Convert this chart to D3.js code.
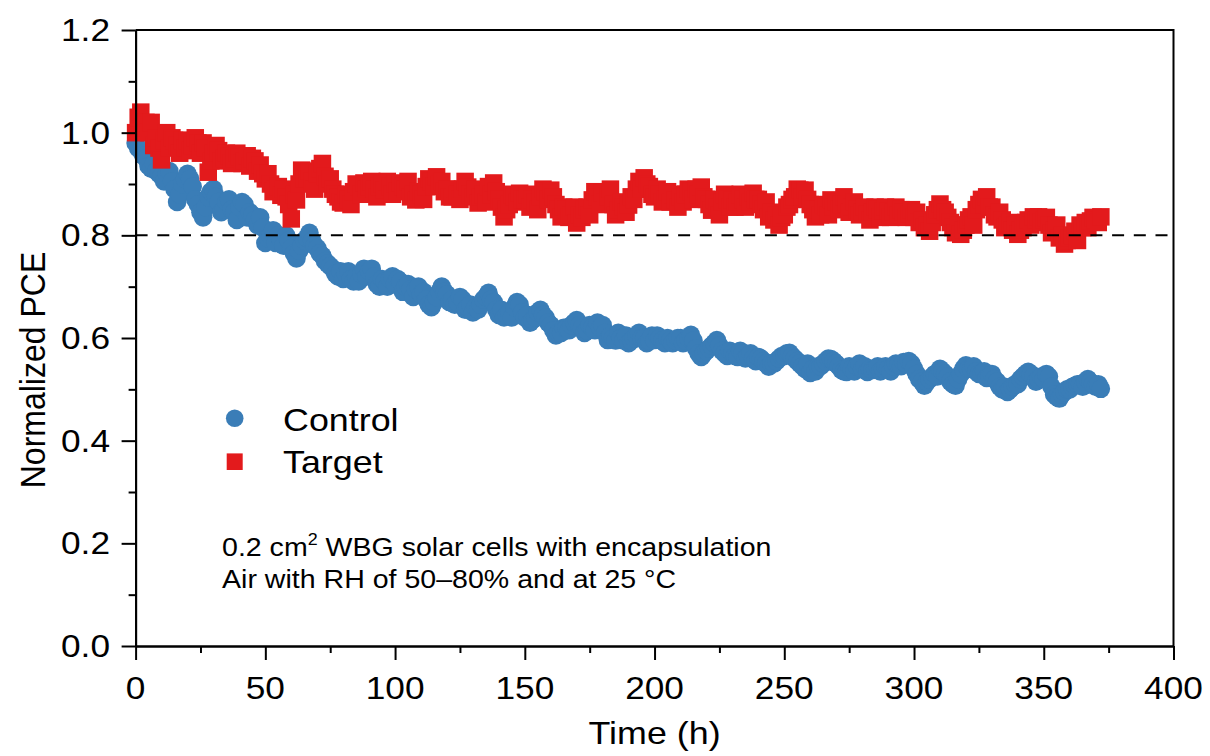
<!DOCTYPE html>
<html><head><meta charset="utf-8">
<script src="https://cdn.jsdelivr.net/npm/d3@7"></script>
<style>body{margin:0;background:#fff} svg{display:block}</style>
</head><body><svg id="chart" width="1210" height="756"></svg>
<script>
const hours = [0,1,2,3,4,5,6,7,8,9,
10,11,12,13,14,15,16,17,18,19,
20,21,22,23,24,25,26,27,28,29,
30,31,32,33,34,35,36,37,38,39,
40,41,42,43,44,45,46,47,48,49,
50,51,52,53,54,55,56,57,58,59,
60,61,62,63,64,65,66,67,68,69,
70,71,72,73,74,75,76,77,78,79,
80,81,82,83,84,85,86,87,88,89,
90,91,92,93,94,95,96,97,98,99,
100,101,102,103,104,105,106,107,108,109,
110,111,112,113,114,115,116,117,118,119,
120,121,122,123,124,125,126,127,128,129,
130,131,132,133,134,135,136,137,138,139,
140,141,142,143,144,145,146,147,148,149,
150,151,152,153,154,155,156,157,158,159,
160,161,162,163,164,165,166,167,168,169,
170,171,172,173,174,175,176,177,178,179,
180,181,182,183,184,185,186,187,188,189,
190,191,192,193,194,195,196,197,198,199,
200,201,202,203,204,205,206,207,208,209,
210,211,212,213,214,215,216,217,218,219,
220,221,222,223,224,225,226,227,228,229,
230,231,232,233,234,235,236,237,238,239,
240,241,242,243,244,245,246,247,248,249,
250,251,252,253,254,255,256,257,258,259,
260,261,262,263,264,265,266,267,268,269,
270,271,272,273,274,275,276,277,278,279,
280,281,282,283,284,285,286,287,288,289,
290,291,292,293,294,295,296,297,298,299,
300,301,302,303,304,305,306,307,308,309,
310,311,312,313,314,315,316,317,318,319,
320,321,322,323,324,325,326,327,328,329,
330,331,332,333,334,335,336,337,338,339,
340,341,342,343,344,345,346,347,348,349,
350,351,352,353,354,355,356,357,358,359,
360,361,362,363,364,365,366,367,368,369,
370,371,372];
const controlPCE = [0.98,0.97,0.965,0.955,0.95,0.935,0.93,0.94,0.925,0.92,
0.915,0.905,0.92,0.925,0.905,0.89,0.865,0.88,0.90,0.91,
0.92,0.91,0.895,0.87,0.86,0.845,0.835,0.855,0.875,0.885,
0.89,0.875,0.865,0.845,0.85,0.865,0.87,0.85,0.845,0.83,
0.855,0.865,0.86,0.835,0.845,0.84,0.83,0.82,0.835,0.815,
0.785,0.795,0.80,0.81,0.785,0.80,0.79,0.78,0.80,0.79,
0.775,0.765,0.755,0.77,0.78,0.79,0.795,0.805,0.79,0.78,
0.775,0.765,0.76,0.75,0.745,0.74,0.735,0.725,0.72,0.73,
0.715,0.725,0.73,0.715,0.71,0.72,0.71,0.725,0.735,0.72,
0.73,0.735,0.72,0.705,0.70,0.715,0.71,0.70,0.715,0.72,
0.705,0.715,0.71,0.69,0.70,0.705,0.695,0.68,0.695,0.70,
0.685,0.69,0.675,0.665,0.66,0.67,0.68,0.69,0.70,0.69,
0.685,0.67,0.675,0.665,0.67,0.68,0.675,0.655,0.66,0.665,
0.65,0.66,0.655,0.665,0.675,0.68,0.688,0.675,0.67,0.655,
0.645,0.655,0.64,0.645,0.65,0.64,0.66,0.67,0.665,0.65,
0.64,0.645,0.63,0.635,0.64,0.65,0.655,0.645,0.64,0.63,
0.625,0.615,0.605,0.61,0.61,0.62,0.62,0.615,0.625,0.63,
0.635,0.625,0.62,0.61,0.615,0.625,0.62,0.615,0.63,0.62,
0.625,0.61,0.596,0.605,0.60,0.595,0.61,0.60,0.595,0.605,
0.59,0.595,0.60,0.605,0.61,0.60,0.60,0.59,0.595,0.605,
0.596,0.605,0.60,0.595,0.59,0.60,0.595,0.59,0.596,0.60,
0.60,0.59,0.595,0.60,0.606,0.595,0.58,0.57,0.563,0.57,
0.575,0.58,0.585,0.59,0.596,0.585,0.575,0.57,0.565,0.575,
0.57,0.565,0.563,0.575,0.57,0.56,0.565,0.57,0.56,0.555,
0.563,0.56,0.555,0.55,0.544,0.55,0.55,0.555,0.56,0.565,
0.565,0.57,0.571,0.565,0.56,0.555,0.55,0.545,0.54,0.55,
0.532,0.54,0.535,0.545,0.545,0.55,0.555,0.56,0.559,0.555,
0.55,0.545,0.538,0.535,0.534,0.545,0.54,0.535,0.545,0.55,
0.54,0.545,0.534,0.54,0.538,0.54,0.545,0.535,0.54,0.545,
0.54,0.535,0.545,0.55,0.548,0.545,0.553,0.55,0.555,0.55,
0.54,0.53,0.52,0.515,0.507,0.515,0.52,0.525,0.53,0.525,
0.54,0.535,0.53,0.525,0.515,0.51,0.507,0.52,0.53,0.54,
0.547,0.54,0.54,0.545,0.535,0.53,0.53,0.535,0.522,0.525,
0.53,0.52,0.515,0.505,0.50,0.505,0.495,0.50,0.505,0.51,
0.51,0.52,0.525,0.53,0.534,0.53,0.525,0.515,0.52,0.525,
0.52,0.53,0.525,0.505,0.49,0.485,0.482,0.49,0.495,0.50,
0.50,0.505,0.507,0.51,0.51,0.505,0.515,0.52,0.514,0.51,
0.505,0.51,0.501];
const targetPCE = [1.0,1.03,1.04,1.01,1.02,1.0,1.02,0.975,0.99,0.97,
0.947,0.985,1.0,0.97,0.99,0.985,0.975,0.96,0.985,0.97,
0.985,0.965,0.975,0.99,0.98,0.96,0.98,0.97,0.923,0.945,
0.96,0.975,0.965,0.945,0.95,0.96,0.955,0.94,0.95,0.96,
0.953,0.94,0.945,0.955,0.935,0.95,0.945,0.925,0.937,0.92,
0.91,0.92,0.90,0.885,0.89,0.895,0.878,0.89,0.875,0.86,
0.832,0.88,0.869,0.90,0.927,0.91,0.91,0.925,0.905,0.89,
0.92,0.93,0.94,0.915,0.90,0.91,0.89,0.88,0.875,0.865,
0.863,0.88,0.87,0.86,0.885,0.90,0.895,0.88,0.902,0.89,
0.895,0.905,0.89,0.875,0.895,0.90,0.888,0.905,0.895,0.88,
0.90,0.885,0.902,0.895,0.89,0.905,0.875,0.88,0.869,0.885,
0.88,0.87,0.895,0.91,0.905,0.895,0.914,0.90,0.905,0.885,
0.89,0.875,0.875,0.89,0.88,0.87,0.89,0.905,0.894,0.88,
0.875,0.89,0.863,0.875,0.88,0.865,0.895,0.88,0.902,0.885,
0.87,0.855,0.836,0.85,0.86,0.88,0.875,0.865,0.882,0.87,
0.87,0.88,0.855,0.87,0.865,0.85,0.875,0.89,0.885,0.87,
0.888,0.875,0.86,0.85,0.836,0.855,0.85,0.835,0.84,0.855,
0.824,0.84,0.835,0.85,0.855,0.84,0.869,0.885,0.875,0.86,
0.882,0.865,0.875,0.89,0.86,0.84,0.849,0.865,0.855,0.845,
0.859,0.875,0.87,0.89,0.905,0.89,0.912,0.90,0.895,0.88,
0.875,0.89,0.88,0.865,0.87,0.885,0.865,0.88,0.869,0.855,
0.875,0.865,0.88,0.89,0.885,0.87,0.89,0.88,0.894,0.875,
0.87,0.86,0.849,0.87,0.855,0.84,0.865,0.88,0.87,0.855,
0.869,0.855,0.865,0.88,0.87,0.855,0.875,0.865,0.882,0.87,
0.87,0.86,0.85,0.865,0.836,0.845,0.83,0.84,0.82,0.835,
0.84,0.855,0.86,0.87,0.875,0.89,0.888,0.875,0.888,0.87,
0.86,0.85,0.836,0.85,0.84,0.86,0.855,0.84,0.869,0.855,
0.865,0.85,0.86,0.875,0.861,0.845,0.855,0.865,0.85,0.84,
0.845,0.855,0.842,0.83,0.845,0.855,0.85,0.835,0.847,0.855,
0.847,0.835,0.845,0.855,0.84,0.85,0.845,0.835,0.842,0.85,
0.835,0.845,0.825,0.83,0.815,0.82,0.808,0.825,0.84,0.85,
0.861,0.85,0.845,0.835,0.825,0.815,0.805,0.82,0.802,0.81,
0.82,0.83,0.836,0.82,0.85,0.86,0.87,0.86,0.875,0.855,
0.855,0.84,0.836,0.845,0.83,0.815,0.82,0.825,0.81,0.82,
0.802,0.81,0.815,0.825,0.83,0.82,0.836,0.83,0.836,0.825,
0.83,0.835,0.82,0.805,0.81,0.82,0.795,0.80,0.783,0.79,
0.795,0.80,0.808,0.79,0.82,0.815,0.825,0.815,0.828,0.835,
0.83,0.825,0.836];
const seriesNames = ["Control", "Target"];
const seriesColors = ["#3a7db7", "#e31a1c"];
const xTicks = [0,50,100,150,200,250,300,350,400];
const yTicks = [0.0,0.2,0.4,0.6,0.8,1.0,1.2];
const xMinor = [25,75,125,175,225,275,325,375];
const yMinor = [0.1,0.3,0.5,0.7,0.9,1.1];
const thresholdValue = 0.8;
const noteLines = ["0.2 cm", "Air with RH of 50\u201380% and at 25 \u00B0C"];
const xTitle = "Time (h)";
const yTitle = "Normalized PCE";

const SX = 1.12; // horizontal text stretch of the original figure
const FONT = "'Liberation Sans', Arial, Helvetica, sans-serif";
const svg = d3.select("#chart");
const L = 135.6, R = 1173.5, T = 30, B = 646;
const x = d3.scaleLinear().domain([0, 400]).range([L, R]);
const y = d3.scaleLinear().domain([0, 1.2]).range([B, T]);

function label(g, tx, ty, str, size, anchor) {
  return g.append("text")
    .attr("transform", `translate(${tx},${ty}) scale(${SX},1)`)
    .attr("text-anchor", anchor)
    .attr("font-family", FONT).attr("font-size", size).attr("fill", "#000")
    .text(str);
}

// data markers
const gData = svg.append("g");
gData.selectAll("circle.ctrl").data(hours.map((h, i) => [h, controlPCE[i]]))
  .join("circle").attr("class", "ctrl")
  .attr("cx", d => x(d[0])).attr("cy", d => y(d[1])).attr("r", 9.3)
  .attr("fill", seriesColors[0]);
const S = 17.5;
gData.selectAll("rect.tgt").data(hours.map((h, i) => [h, targetPCE[i]]))
  .join("rect").attr("class", "tgt")
  .attr("x", d => x(d[0]) - S / 2).attr("y", d => y(d[1]) - S / 2)
  .attr("width", S).attr("height", S)
  .attr("fill", seriesColors[1]);

// threshold line
svg.append("line")
  .attr("x1", x(0)).attr("x2", x(398)).attr("y1", y(thresholdValue)).attr("y2", y(thresholdValue))
  .attr("stroke", "#000").attr("stroke-width", 2).attr("stroke-dasharray", "12,9.7");

// axes
const gx = svg.append("g").attr("transform", `translate(0,${B})`)
  .call(d3.axisBottom(x).tickValues(xTicks).tickSize(14).tickSizeOuter(0).tickFormat(""));
const gxm = svg.append("g").attr("transform", `translate(0,${B})`)
  .call(d3.axisBottom(x).tickValues(xMinor).tickSize(7).tickSizeOuter(0).tickFormat(""));
const gy = svg.append("g").attr("transform", `translate(${L},0)`)
  .call(d3.axisLeft(y).tickValues(yTicks).tickSize(14).tickSizeOuter(0).tickFormat(""));
const gym = svg.append("g").attr("transform", `translate(${L},0)`)
  .call(d3.axisLeft(y).tickValues(yMinor).tickSize(7).tickSizeOuter(0).tickFormat(""));
[gx, gxm, gy, gym].forEach(g => {
  g.selectAll("path,line").attr("stroke", "#000").attr("stroke-width", 2);
});
// frame top and right
svg.append("line").attr("x1", L).attr("x2", R).attr("y1", T).attr("y2", T).attr("stroke", "#000").attr("stroke-width", 2);
svg.append("line").attr("x1", R).attr("x2", R).attr("y1", T - 1).attr("y2", B).attr("stroke", "#000").attr("stroke-width", 2);

// tick labels
const gl = svg.append("g");
xTicks.forEach(v => label(gl, x(v), 699, String(v), 31.5, "middle"));
yTicks.forEach(v => label(gl, 110, y(v) + 11, v.toFixed(1), 31.5, "end"));

// axis titles
label(svg, (L + R) / 2, 744, xTitle, 32, "middle");
svg.append("text")
  .attr("transform", `translate(45,370) scale(${SX},1) rotate(-90)`)
  .attr("text-anchor", "middle").attr("font-family", FONT).attr("font-size", 32)
  .text(yTitle);

// legend
const lg = svg.append("g");
lg.append("circle").attr("cx", 234.7).attr("cy", 418.3).attr("r", 8.8).attr("fill", seriesColors[0]);
lg.append("rect").attr("x", 234.7 - 8).attr("y", 461.7 - 8.3).attr("width", 16).attr("height", 16.6).attr("fill", seriesColors[1]);
label(lg, 283, 430.5, seriesNames[0], 32, "start");
label(lg, 283, 473, seriesNames[1], 32, "start");

// annotation
const t1 = svg.append("text")
  .attr("transform", `translate(222,556) scale(${SX},1)`)
  .attr("font-family", FONT).attr("font-size", 25.5).attr("fill", "#000");
t1.append("tspan").text(noteLines[0]);
t1.append("tspan").attr("font-size", 16).attr("dy", -11).text("2");
t1.append("tspan").attr("dy", 11).text(" WBG solar cells with encapsulation");
label(svg, 222, 588, noteLines[1], 25.5, "start");
</script>
</body></html>
